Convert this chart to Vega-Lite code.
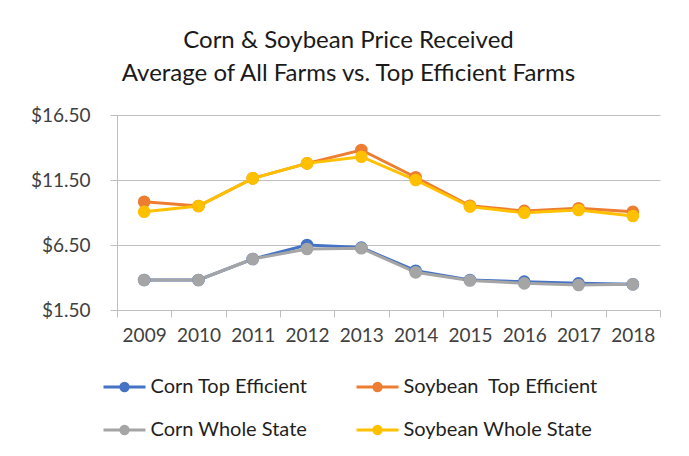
{
  "$schema": "https://vega.github.io/schema/vega-lite/v6.json",
  "width": 543,
  "height": 195,
  "autosize": {"type": "none"},
  "padding": {"left": 117, "top": 115, "right": 29, "bottom": 146},
  "background": "white",
  "title": {
    "text": ["Corn & Soybean Price Received", "Average of All Farms vs. Top Efficient Farms"],
    "font": "Lato",
    "fontSize": 24,
    "fontWeight": "normal",
    "color": "#1a1a1a",
    "anchor": "middle",
    "frame": "group",
    "dx": -40,
    "offset": -4,
    "lineHeight": 33,
    "baseline": "bottom"
  },
  "data": {
    "values": [
      {"year": 2009, "series": "Corn Top Efficient", "price": 3.81},
      {"year": 2010, "series": "Corn Top Efficient", "price": 3.81},
      {"year": 2011, "series": "Corn Top Efficient", "price": 5.42},
      {"year": 2012, "series": "Corn Top Efficient", "price": 6.5},
      {"year": 2013, "series": "Corn Top Efficient", "price": 6.3},
      {"year": 2014, "series": "Corn Top Efficient", "price": 4.52},
      {"year": 2015, "series": "Corn Top Efficient", "price": 3.81},
      {"year": 2016, "series": "Corn Top Efficient", "price": 3.68},
      {"year": 2017, "series": "Corn Top Efficient", "price": 3.55},
      {"year": 2018, "series": "Corn Top Efficient", "price": 3.48},
      {"year": 2009, "series": "Soybean\u00a0 Top Efficient", "price": 9.83},
      {"year": 2010, "series": "Soybean\u00a0 Top Efficient", "price": 9.5},
      {"year": 2011, "series": "Soybean\u00a0 Top Efficient", "price": 11.63},
      {"year": 2012, "series": "Soybean\u00a0 Top Efficient", "price": 12.78},
      {"year": 2013, "series": "Soybean\u00a0 Top Efficient", "price": 13.81},
      {"year": 2014, "series": "Soybean\u00a0 Top Efficient", "price": 11.71},
      {"year": 2015, "series": "Soybean\u00a0 Top Efficient", "price": 9.52},
      {"year": 2016, "series": "Soybean\u00a0 Top Efficient", "price": 9.12},
      {"year": 2017, "series": "Soybean\u00a0 Top Efficient", "price": 9.32},
      {"year": 2018, "series": "Soybean\u00a0 Top Efficient", "price": 9.06},
      {"year": 2009, "series": "Corn Whole State", "price": 3.81},
      {"year": 2010, "series": "Corn Whole State", "price": 3.81},
      {"year": 2011, "series": "Corn Whole State", "price": 5.42},
      {"year": 2012, "series": "Corn Whole State", "price": 6.19},
      {"year": 2013, "series": "Corn Whole State", "price": 6.25},
      {"year": 2014, "series": "Corn Whole State", "price": 4.4},
      {"year": 2015, "series": "Corn Whole State", "price": 3.77},
      {"year": 2016, "series": "Corn Whole State", "price": 3.55},
      {"year": 2017, "series": "Corn Whole State", "price": 3.42},
      {"year": 2018, "series": "Corn Whole State", "price": 3.48},
      {"year": 2009, "series": "Soybean Whole State", "price": 9.06},
      {"year": 2010, "series": "Soybean Whole State", "price": 9.5},
      {"year": 2011, "series": "Soybean Whole State", "price": 11.63},
      {"year": 2012, "series": "Soybean Whole State", "price": 12.78},
      {"year": 2013, "series": "Soybean Whole State", "price": 13.29},
      {"year": 2014, "series": "Soybean Whole State", "price": 11.5},
      {"year": 2015, "series": "Soybean Whole State", "price": 9.45},
      {"year": 2016, "series": "Soybean Whole State", "price": 8.98},
      {"year": 2017, "series": "Soybean Whole State", "price": 9.19},
      {"year": 2018, "series": "Soybean Whole State", "price": 8.73}
    ]
  },
  "mark": {"type": "line", "strokeWidth": 3, "point": {"filled": true, "size": 160, "opacity": 1}},
  "encoding": {
    "x": {
      "field": "year",
      "type": "quantitative",
      "scale": {"domain": [2008.5, 2018.5], "nice": false, "zero": false},
      "axis": {
        "title": null,
        "values": [2008.5, 2009.5, 2010.5, 2011.5, 2012.5, 2013.5, 2014.5, 2015.5, 2016.5, 2017.5, 2018.5],
        "labelExpr": "datum.value < 2018 ? toString(datum.value + 0.5) : ''",
        "labelOffset": 27.15,
        "labelFlush": false,
        "labelOverlap": false,
        "labelBound": false,
        "grid": false,
        "tickSize": 7,
        "tickColor": "#bfbfbf",
        "domainColor": "#bfbfbf",
        "labelPadding": 9,
        "labelFont": "Lato",
        "labelFontSize": 19,
        "labelColor": "#404040"
      }
    },
    "y": {
      "field": "price",
      "type": "quantitative",
      "scale": {"domain": [1.5, 16.5], "nice": false, "zero": false},
      "axis": {
        "title": null,
        "values": [1.5, 6.5, 11.5, 16.5],
        "format": "$.2f",
        "grid": true,
        "gridColor": "#bfbfbf",
        "domainColor": "#bfbfbf",
        "tickColor": "#bfbfbf",
        "tickSize": 7,
        "labelPadding": 20,
        "labelFont": "Lato",
        "labelFontSize": 19,
        "labelColor": "#404040"
      }
    },
    "color": {
      "field": "series",
      "type": "nominal",
      "sort": null,
      "scale": {
        "domain": ["Corn Top Efficient", "Soybean\u00a0 Top Efficient", "Corn Whole State", "Soybean Whole State"],
        "range": ["#4472C4", "#ED7D31", "#A5A5A5", "#FFC000"]
      },
      "legend": {
        "title": null,
        "orient": "none",
        "legendX": -4.5,
        "legendY": 260,
        "columns": 2,
        "direction": "horizontal",
        "padding": 0,
        "columnPadding": 42,
        "rowPadding": 21,
        "symbolType": "M-2,0H2M0.35,0A0.35,0.35,0,1,1,-0.35,0A0.35,0.35,0,1,1,0.35,0Z",
        "symbolSize": 441,
        "symbolStrokeWidth": 3,
        "labelOffset": 14,
        "labelFont": "Lato",
        "labelFontSize": 20,
        "labelColor": "#1f1f1f",
        "labelLimit": 400,
        "encode": {
          "symbols": {
            "update": {
              "fill": {"scale": "color", "field": "value"},
              "stroke": {"scale": "color", "field": "value"},
              "strokeWidth": {"value": 3},
              "opacity": {"value": 1}
            }
          }
        }
      }
    }
  },
  "config": {
    "view": {"stroke": null}
  }
}
